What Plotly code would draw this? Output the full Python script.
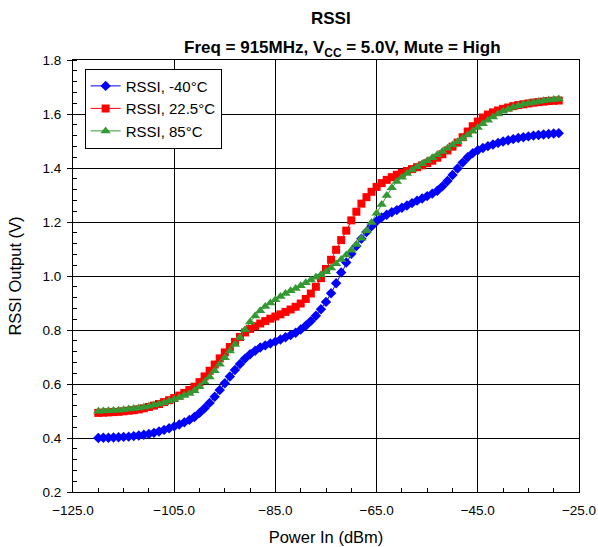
import plotly.graph_objects as go

power_in = list(range(-120, -28))

rssi_m40 = [0.400, 0.401, 0.401, 0.402, 0.403, 0.404, 0.405, 0.407, 0.409, 0.412,
            0.415, 0.419, 0.424, 0.430, 0.436, 0.443, 0.450, 0.458, 0.467, 0.478,
            0.493, 0.510, 0.530, 0.553, 0.578, 0.603, 0.628, 0.652, 0.674, 0.694,
            0.710, 0.723, 0.735, 0.743, 0.750, 0.757, 0.765, 0.773, 0.781, 0.790,
            0.802, 0.816, 0.833, 0.853, 0.877, 0.904, 0.936, 0.973, 1.013, 1.050,
            1.082, 1.111, 1.138, 1.163, 1.184, 1.203, 1.217, 1.227, 1.236, 1.244,
            1.253, 1.261, 1.270, 1.279, 1.287, 1.296, 1.305, 1.316, 1.332, 1.352,
            1.374, 1.398, 1.420, 1.440, 1.455, 1.466, 1.474, 1.481, 1.487, 1.493,
            1.498, 1.503, 1.507, 1.511, 1.514, 1.517, 1.520, 1.522, 1.524, 1.526,
            1.528, 1.529]

rssi_22 = [0.493, 0.494, 0.495, 0.496, 0.497, 0.499, 0.501, 0.503, 0.506, 0.510,
           0.515, 0.520, 0.526, 0.533, 0.540, 0.548, 0.557, 0.567, 0.578, 0.590,
           0.607, 0.628, 0.649, 0.672, 0.695, 0.717, 0.737, 0.756, 0.774, 0.791,
           0.804, 0.814, 0.824, 0.833, 0.842, 0.850, 0.858, 0.867, 0.876, 0.886,
           0.898, 0.915, 0.935, 0.960, 0.992, 1.026, 1.060, 1.097, 1.133, 1.168,
           1.206, 1.238, 1.268, 1.292, 1.312, 1.330, 1.344, 1.356, 1.366, 1.375,
           1.382, 1.389, 1.396, 1.403, 1.410, 1.418, 1.427, 1.438, 1.451, 1.465,
           1.479, 1.494, 1.514, 1.535, 1.555, 1.572, 1.587, 1.598, 1.606, 1.613,
           1.619, 1.624, 1.629, 1.633, 1.636, 1.639, 1.642, 1.644, 1.646, 1.648,
           1.649, 1.650]

rssi_85 = [0.499, 0.500, 0.501, 0.502, 0.503, 0.505, 0.507, 0.509, 0.511, 0.514,
           0.518, 0.522, 0.526, 0.531, 0.537, 0.543, 0.550, 0.557, 0.565, 0.575,
           0.590, 0.607, 0.626, 0.649, 0.673, 0.697, 0.722, 0.746, 0.772, 0.801,
           0.830, 0.852, 0.871, 0.887, 0.900, 0.912, 0.924, 0.935, 0.945, 0.954,
           0.964, 0.975, 0.985, 0.995, 1.005, 1.016, 1.030, 1.045, 1.061, 1.078,
           1.095, 1.117, 1.140, 1.168, 1.198, 1.232, 1.265, 1.298, 1.327, 1.350,
           1.366, 1.380, 1.393, 1.405, 1.416, 1.427, 1.438, 1.449, 1.461, 1.473,
           1.485, 1.497, 1.509, 1.522, 1.536, 1.550, 1.564, 1.577, 1.589, 1.600,
           1.610, 1.618, 1.625, 1.631, 1.636, 1.640, 1.643, 1.646, 1.649, 1.652,
           1.654, 1.656]

series_names = ["RSSI, -40°C", "RSSI, 22.5°C", "RSSI, 85°C"]
x_tick_vals = [-125, -105, -85, -65, -45, -25]
y_tick_vals = [0.2, 0.4, 0.6, 0.8, 1.0, 1.2, 1.4, 1.6, 1.8]

FONT = "Arial, Liberation Sans, sans-serif"

fig = go.Figure()
fig.add_trace(go.Scatter(x=power_in, y=rssi_m40, name=series_names[0], mode="lines+markers",
                         line=dict(color="#0000FF", width=1),
                         marker=dict(symbol="diamond", size=8, color="#0000FF")))
fig.add_trace(go.Scatter(x=power_in, y=rssi_22, name=series_names[1], mode="lines+markers",
                         line=dict(color="#FF0000", width=1),
                         marker=dict(symbol="square", size=8, color="#FF0000")))
fig.add_trace(go.Scatter(x=power_in, y=rssi_85, name=series_names[2], mode="lines+markers",
                         line=dict(color="#339933", width=1),
                         marker=dict(symbol="triangle-up", size=9, color="#339933")))

axis_common = dict(showline=True, linecolor="black", linewidth=1, mirror=True,
                   showgrid=True, gridcolor="black", gridwidth=1, zeroline=False,
                   automargin=False, tickcolor="black",
                   tickfont=dict(family=FONT, size=13.5, color="black"))

fig.update_xaxes(range=[-125, -25], tickvals=x_tick_vals, tickformat=".1f",
                 ticks="inside", ticklen=4, ticklabelstandoff=6,
                 title=dict(text="Power In (dBm)", font=dict(family=FONT, size=16.5, color="black"), standoff=14),
                 minor=dict(dtick=5, tick0=-125, ticks="inside", ticklen=4, tickcolor="black", showgrid=False),
                 **axis_common)
fig.update_yaxes(range=[0.2, 1.8], tickvals=y_tick_vals, tickformat=".1f",
                 ticks="outside", ticklen=5, ticklabelstandoff=3,
                 title=dict(text="RSSI Output (V)", font=dict(family=FONT, size=16.5, color="black"), standoff=16),
                 minor=dict(dtick=0.04, tick0=0.2, ticks="inside", ticklen=4, tickcolor="black", showgrid=False),
                 **axis_common)

fig.add_annotation(text="<b>RSSI</b>", xref="paper", yref="paper", x=0.51, y=1.0,
                   yshift=42, showarrow=False, yanchor="middle",
                   font=dict(family=FONT, size=17, color="black"))
fig.add_annotation(text="<b>Freq = 915MHz, V<sub>CC</sub> = 5.0V, Mute = High</b>", xref="paper", yref="paper",
                   x=0.532, y=1.0, yshift=11, showarrow=False, yanchor="middle",
                   font=dict(family=FONT, size=17, color="black"))

fig.update_layout(
    width=598, height=547,
    margin=dict(l=73, r=19, t=60, b=55),
    paper_bgcolor="white", plot_bgcolor="white",
    font=dict(family=FONT, size=13, color="black"),
    legend=dict(x=0.023, y=0.98, xanchor="left", yanchor="top",
                bgcolor="white", bordercolor="black", borderwidth=1,
                font=dict(family=FONT, size=15, color="black"),
                tracegroupgap=0, itemwidth=30),
)

fig.write_html("out.html",
               config={"displayModeBar": False},
               post_script="document.body.style.margin='0';document.body.style.overflow='hidden';")
